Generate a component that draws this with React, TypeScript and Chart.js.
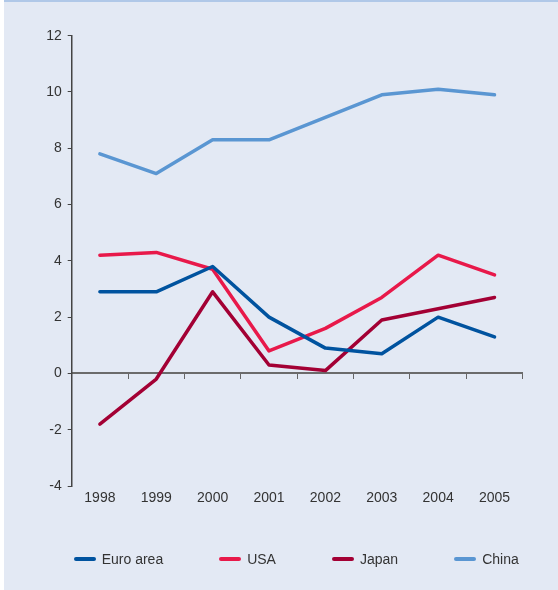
import React, { useEffect, useRef } from 'react';
import { Chart, registerables } from 'chart.js';

Chart.register(...registerables);

const years = ['1998', '1999', '2000', '2001', '2002', '2003', '2004', '2005'];
const seriesNames = ['Euro area', 'USA', 'Japan', 'China'];
const seriesColors = ['#00539f', '#e8194a', '#a30034', '#5a96d2'];
const euroArea = [2.9, 2.9, 3.8, 2.0, 0.9, 0.7, 2.0, 1.3];
const usa = [4.2, 4.3, 3.7, 0.8, 1.6, 2.7, 4.2, 3.5];
const japan = [-1.8, -0.2, 2.9, 0.3, 0.1, 1.9, 2.3, 2.7];
const china = [7.8, 7.1, 8.3, 8.3, 9.1, 9.9, 10.1, 9.9];
const yMin = -4;
const yMax = 12;
const yStep = 2;

const FONT = '"Liberation Sans", Arial, sans-serif';

export default function App() {
  const ref = useRef<HTMLCanvasElement>(null);

  useEffect(() => {
    const values = [euroArea, usa, japan, china];
    const chart = new Chart(ref.current as HTMLCanvasElement, {
      type: 'line',
      data: {
        labels: years,
        datasets: seriesNames.map((name, i) => ({
          label: name,
          data: values[i],
          borderColor: seriesColors[i],
          backgroundColor: seriesColors[i],
          borderWidth: 3.5,
          pointRadius: 0,
          pointHoverRadius: 0,
          tension: 0,
          borderCapStyle: 'round' as const,
          borderJoinStyle: 'round' as const,
          xAxisID: 'x',
          yAxisID: 'y',
        })),
      },
      options: {
        responsive: false,
        animation: false,
        devicePixelRatio: 1,
        layout: { padding: { left: 0, top: 35.7, right: 35.3, bottom: 0 } },
        plugins: { legend: { display: false }, tooltip: { enabled: false } },
        scales: {
          x: {
            type: 'category',
            position: 'bottom',
            offset: true,
            grid: { display: false, drawTicks: false },
            border: { display: false },
            ticks: {
              color: '#333',
              font: { family: FONT, size: 14 },
              padding: 4,
              maxRotation: 0,
              autoSkip: false,
            },
            afterFit: (s: any) => {
              s.height = 104;
            },
          },
          x0: {
            type: 'category',
            position: { y: 0 },
            offset: true,
            grid: {
              offset: true,
              drawOnChartArea: false,
              tickLength: 5,
              color: '#666',
              lineWidth: 1,
            },
            border: { display: true, color: '#6b6b6b', width: 2 },
            ticks: { display: false },
          },
          y: {
            type: 'linear',
            position: 'left',
            min: yMin,
            max: yMax,
            ticks: {
              stepSize: yStep,
              color: '#333',
              font: { family: FONT, size: 14 },
              padding: 6,
            },
            grid: { drawOnChartArea: false, tickLength: 4, color: '#444', lineWidth: 1 },
            border: { display: true, color: '#444', width: 1.5 },
            afterFit: (s: any) => {
              s.width = 67.7;
            },
          },
        },
      } as any,
    });
    return () => chart.destroy();
  }, []);

  return (
    <div
      style={{
        position: 'absolute',
        left: 4,
        top: 0,
        width: 554,
        height: 590,
        background: '#e3e9f4',
        fontFamily: FONT,
      }}
    >
      <div style={{ position: 'absolute', left: 0, top: 0, width: 554, height: 2, background: '#b0c8e8' }} />
      <canvas ref={ref} width={554} height={590} style={{ position: 'absolute', left: 0, top: 0 }} />
      <div
        style={{
          position: 'absolute',
          left: 69.7,
          top: 550,
          height: 18,
          display: 'flex',
          alignItems: 'center',
          fontSize: 14,
          color: '#333',
          whiteSpace: 'nowrap',
        }}
      >
        {seriesNames.map((name, i) => (
          <div key={name} style={{ display: 'flex', alignItems: 'center', marginRight: i < seriesNames.length - 1 ? 56 : 0 }}>
            <span
              style={{
                display: 'inline-block',
                width: 22,
                height: 4,
                borderRadius: 2,
                background: seriesColors[i],
                marginRight: 6,
              }}
            />
            <span>{name}</span>
          </div>
        ))}
      </div>
    </div>
  );
}
